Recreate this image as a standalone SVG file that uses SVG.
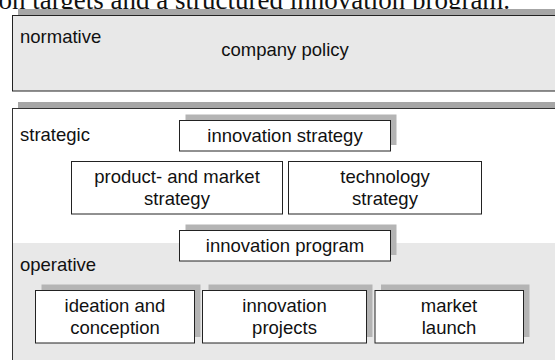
<svg xmlns="http://www.w3.org/2000/svg" width="555" height="360" viewBox="0 0 555 360">
<style>
text{font-family:"Liberation Sans",Arial,sans-serif;font-size:18.5px;fill:#111}
.c{text-anchor:middle}
.box{fill:#fff;stroke:#222;stroke-width:1}
.sh{fill:#b4b4b4}
.bsh{fill:#a6a6a6}
</style>
<rect width="555" height="360" fill="#fff"/>
<text x="-9" y="9.3" style="font-family:'Liberation Serif','Times New Roman',serif;font-size:27px">ion targets and a structured innovation program.</text>
<g id="normative-layer">
<rect class="bsh" x="18" y="9" width="545" height="6"/>
<rect x="12.5" y="15.5" width="560" height="75.5" fill="#e8e8e8" stroke="#222"/>
<text x="20" y="43">normative</text>
<text class="c" x="285" y="56">company policy</text>
</g>
<g id="strategic-operative-layer">
<rect class="bsh" x="18" y="102" width="545" height="6.5"/>
<rect x="12.5" y="108.5" width="560" height="270" fill="#fff" stroke="#333"/>
<rect x="13" y="243" width="545" height="120" fill="#e8e8e8"/>
<text x="20" y="141">strategic</text>
<text x="20" y="271">operative</text>
</g>
<g id="connectors"></g>
<g id="innovation-strategy">
<rect class="sh" x="185.5" y="114.5" width="211" height="30.5"/>
<rect class="box" x="179.5" y="120.5" width="211" height="30.5"/>
<text class="c" x="285" y="142">innovation strategy</text>
</g>
<g id="product-market-strategy">
<rect class="box" x="71.5" y="161.5" width="211" height="52.5"/>
<text class="c" x="177" y="183">product- and market</text>
<text class="c" x="177" y="205">strategy</text>
</g>
<g id="technology-strategy">
<rect class="box" x="288.5" y="161.5" width="193" height="52.5"/>
<text class="c" x="385" y="183">technology</text>
<text class="c" x="385" y="205">strategy</text>
</g>
<g id="innovation-program">
<rect class="sh" x="185.5" y="224.5" width="211" height="30.5"/>
<rect class="box" x="179.5" y="230.5" width="211" height="30.5"/>
<text class="c" x="285" y="252">innovation program</text>
</g>
<g id="ideation-conception">
<rect class="sh" x="41.5" y="284.5" width="159" height="52.5"/>
<rect class="box" x="35.5" y="290.5" width="159" height="52.5"/>
<text class="c" x="115" y="312">ideation and</text>
<text class="c" x="115" y="334">conception</text>
</g>
<g id="innovation-projects">
<rect class="sh" x="208.5" y="284.5" width="164" height="52.5"/>
<rect class="box" x="202.5" y="290.5" width="164" height="52.5"/>
<text class="c" x="284.5" y="312">innovation</text>
<text class="c" x="284.5" y="334">projects</text>
</g>
<g id="market-launch">
<rect class="sh" x="381" y="284.5" width="148.5" height="52.5"/>
<rect class="box" x="375" y="290.5" width="148.5" height="52.5"/>
<text class="c" x="449" y="312">market</text>
<text class="c" x="449" y="334">launch</text>
</g>
</svg>
